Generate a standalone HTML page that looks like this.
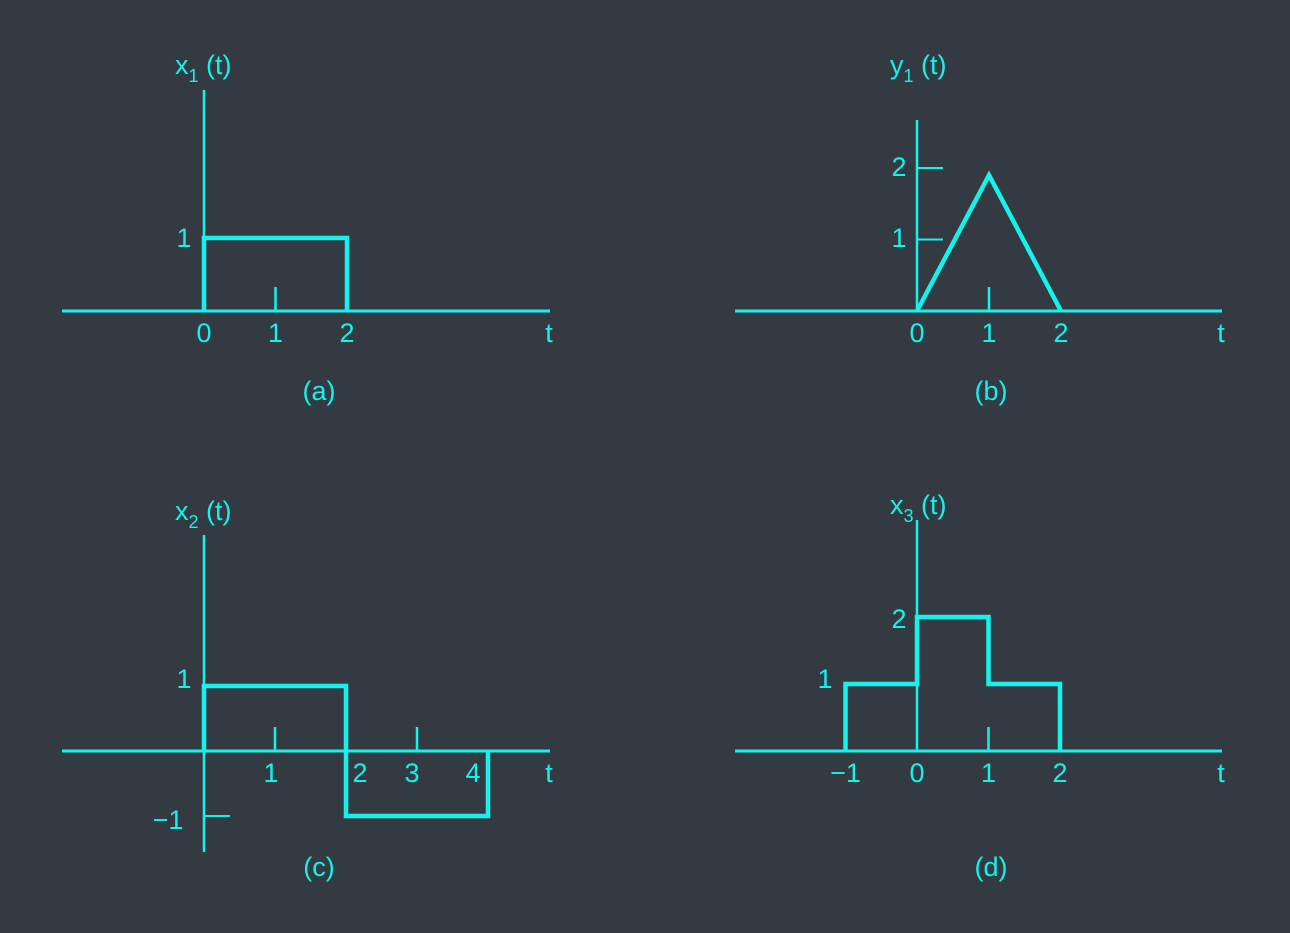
<!DOCTYPE html>
<html><head><meta charset="utf-8"><style>
html,body{margin:0;padding:0;background:#343a41;width:1290px;height:933px;overflow:hidden}
svg text{font-family:"Liberation Sans",sans-serif;fill:#14f2ec;font-size:27px}
</style></head><body>
<svg id="fig" width="1290" height="933" viewBox="0 0 1290 933" xmlns="http://www.w3.org/2000/svg"></svg>
<script>
// signal data (t, value) breakpoints
const aT=[0,0,2,2];  const aV=[0,1,1,0];
const bT=[0,1,2];           const bV=[0,1.9,0];
const cT=[0,0,2,2,4,4]; const cV=[0,1,1,-1,-1,0];
const dT=[-1,-1,0,0,1,1,2,2];  const dV=[0,1,1,2,2,1,1,0];
const aTicks=["0","1","2"]; const bTicks=["0","1","2"];
const cTicks=["1","2","3","4"]; const dTicks=["-1","0","1","2"];
const C="#14f2ec";
const svg=document.getElementById('fig');
const NS="http://www.w3.org/2000/svg";
function mk(tag,attrs,name,parent){const e=document.createElementNS(NS,tag);for(const k in attrs)e.setAttribute(k,attrs[k]);


(parent||svg).appendChild(e);return e;}
function txt(x,y,s,name,anchor,size){const e=mk('text',{x:x,y:y,'text-anchor':anchor||'middle'},name);e.textContent=s;if(size)e.style.fontSize=size+'px';return e;}
function panel(p){
 const g=mk('g',{},p.id+'-panel');
 const X=t=>p.x0+t*p.sx, Y=v=>p.y0-v*p.sy;
 mk('line',{x1:p.xa0,y1:p.y0,x2:p.xa1,y2:p.y0,stroke:C,'stroke-width':3},p.id+'-x-axis',g);
 mk('line',{x1:p.x0,y1:p.ya0,x2:p.x0,y2:p.ya1,stroke:C,'stroke-width':2.5},p.id+'-y-axis',g);
 let d='';p.T.forEach((t,i)=>{d+=(i?'L':'M')+X(t)+' '+Y(p.V[i]);});
 mk('path',{d:d,fill:'none',stroke:C,'stroke-width':4.5,'stroke-linejoin':'miter'},p.id+'-signal',g);
 p.vt.forEach(t=>mk('line',{x1:X(t),y1:p.y0,x2:X(t),y2:p.y0-24,stroke:C,'stroke-width':2.5},p.id+'-x-tick',g));
 p.ht.forEach(v=>mk('line',{x1:p.x0,y1:Y(v),x2:p.x0+26,y2:Y(v),stroke:C,'stroke-width':2},p.id+'-y-tick',g));
 p.ticks.forEach((s,i)=>txt(X(parseFloat(s))+(p.tdx?p.tdx[i]:0),p.y0+31,s.replace('-','\u2212'),p.id+'-x-tick-label'));
 p.ylab.forEach(l=>txt(l[0],l[1],l[2],p.id+'-y-tick-label'));
 txt(p.x0+p.tlx,p.y0+31,'t',p.id+'-t-label');
 const tl=txt(p.lx,p.ly,'','-'+p.id,'start');
 tl.innerHTML=p.nm+'<tspan font-size="18" dy="8">'+p.sub+'</tspan><tspan dy="-8"> (t)</tspan>';
 txt(p.x0+p.cap,p.capy,'('+p.id+')',p.id+'-caption');
}
panel({id:'a',x0:204,y0:311,sx:71.5,sy:73,xa0:62,xa1:550,ya0:90,ya1:311,T:aT,V:aV,vt:[1],ht:[],ticks:aTicks,
 ylab:[[184,247,'1']],tlx:345,lx:175,ly:74,nm:'x',sub:'1',cap:115,capy:400});
panel({id:'b',x0:917,y0:311,sx:72,sy:71.5,xa0:735,xa1:1222,ya0:120,ya1:311,T:bT,V:bV,vt:[1],ht:[1,2],ticks:bTicks,
 ylab:[[899,247,'1'],[899,176,'2']],tlx:304,lx:890,ly:74,nm:'y',sub:'1',cap:74,capy:400});
panel({id:'c',x0:204,y0:751,sx:71,sy:65,xa0:62,xa1:550,ya0:535,ya1:852,T:cT,V:cV,vt:[1,3],ht:[-1],ticks:cTicks,tdx:[-4,14,-5,-15],
 ylab:[[184,688,'1'],[168,829,'\u22121']],tlx:345,lx:175,ly:520,nm:'x',sub:'2',cap:115,capy:876});
panel({id:'d',x0:917,y0:751,sx:71.5,sy:67,xa0:735,xa1:1222,ya0:520,ya1:751,T:dT,V:dV,vt:[1],ht:[],ticks:dTicks,
 ylab:[[825,688,'1'],[899,628,'2']],tlx:304,lx:890,ly:514,nm:'x',sub:'3',cap:74,capy:876});
</script>
</body></html>
